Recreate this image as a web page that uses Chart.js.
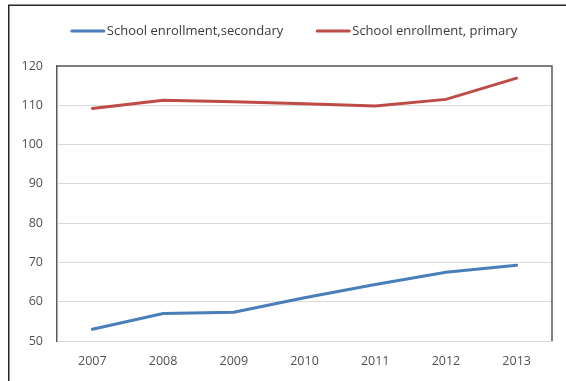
<!DOCTYPE html>
<html>
<head>
<meta charset="utf-8">
<script src="https://cdn.jsdelivr.net/npm/chart.js@4/dist/chart.umd.min.js"></script>
<style>
  html, body { margin: 0; padding: 0; background: #ffffff; overflow: hidden; }
  #wrap { position: absolute; left: 0; top: 0; width: 566px; height: 381px; }
</style>
</head>
<body>
<div id="wrap"><canvas id="c" width="566" height="381"></canvas></div>
<script>
const years = ['2007', '2008', '2009', '2010', '2011', '2012', '2013'];
const secondaryLabel = 'School enrollment,secondary';
const primaryLabel = 'School enrollment, primary';
const secondary = [53.0, 57.0, 57.3, 61.0, 64.4, 67.5, 69.3];
const primary = [109.2, 111.3, 110.9, 110.4, 109.8, 111.5, 116.9];
const yMin = 50, yMax = 120, yStep = 10;

const FONT = "'Open Sans', 'Liberation Sans', sans-serif";

const framePlugin = {
  id: 'frame',
  beforeDraw(chart) {
    const ctx = chart.ctx;
    ctx.save();
    ctx.fillStyle = '#ffffff';
    ctx.fillRect(0, 0, chart.width, chart.height);
    ctx.strokeStyle = '#262626';
    ctx.lineWidth = 1.5;
    ctx.strokeRect(8.75, 5.25, 700, 500);
    ctx.restore();
  },
  beforeDatasetsDraw(chart) {
    const ctx = chart.ctx;
    const a = chart.chartArea;
    ctx.save();
    ctx.strokeStyle = '#595959';
    ctx.lineWidth = 1.5;
    ctx.beginPath();
    ctx.moveTo(a.left, a.top);
    ctx.lineTo(a.right, a.top);
    ctx.lineTo(a.right, a.bottom);
    ctx.stroke();
    ctx.restore();
  },
  afterDraw(chart) {
    const ctx = chart.ctx;
    ctx.save();
    ctx.font = '13px ' + FONT;
    ctx.textBaseline = 'middle';
    ctx.textAlign = 'left';
    const items = chart.data.datasets.map(d => ({ label: d.label, color: d.borderColor }));
    const lineW = 33, gapText = 3, gapItem = 33;
    let total = 0;
    items.forEach((it, i) => {
      it.w = ctx.measureText(it.label).width;
      total += lineW + gapText + it.w + (i > 0 ? gapItem : 0);
    });
    let x = 294 - total / 2;
    const y = 31;
    items.forEach((it) => {
      ctx.strokeStyle = it.color;
      ctx.lineWidth = 3;
      ctx.lineCap = 'round';
      ctx.beginPath();
      ctx.moveTo(x + 1, y);
      ctx.lineTo(x + lineW, y);
      ctx.stroke();
      ctx.fillStyle = '#3a3a3a';
      ctx.fillText(it.label, x + lineW + gapText, y);
      x += lineW + gapText + it.w + gapItem;
    });
    ctx.restore();
  }
};

new Chart(document.getElementById('c'), {
  type: 'line',
  data: {
    labels: years,
    datasets: [
      {
        label: secondaryLabel,
        data: secondary,
        borderColor: '#4A7EBB',
        backgroundColor: '#4A7EBB',
        borderWidth: 3,
        pointRadius: 0,
        tension: 0,
        borderCapStyle: 'round'
      },
      {
        label: primaryLabel,
        data: primary,
        borderColor: '#BE4B48',
        backgroundColor: '#BE4B48',
        borderWidth: 3,
        pointRadius: 0,
        tension: 0,
        borderCapStyle: 'round'
      }
    ]
  },
  options: {
    responsive: false,
    animation: false,
    devicePixelRatio: 1,
    layout: { padding: { left: 0, right: 14, top: 66, bottom: 0 } },
    plugins: {
      legend: { display: false },
      tooltip: { enabled: false }
    },
    scales: {
      x: {
        offset: true,
        grid: { display: false, drawTicks: false },
        border: { display: true, color: '#d9d9d9', width: 1 },
        ticks: {
          color: '#505050',
          font: { family: FONT, size: 12.5 },
          padding: 13,
          maxRotation: 0
        },
        afterFit(scale) { scale.height = 40; }
      },
      y: {
        min: yMin,
        max: yMax,
        grid: { color: '#d9d9d9', lineWidth: 1, drawTicks: false },
        border: { display: true, color: '#595959', width: 1.5 },
        ticks: {
          stepSize: yStep,
          color: '#505050',
          font: { family: FONT, size: 12.5 },
          padding: 14
        },
        afterFit(scale) { scale.width = 57; }
      }
    }
  },
  plugins: [framePlugin]
});
</script>
</body>
</html>
